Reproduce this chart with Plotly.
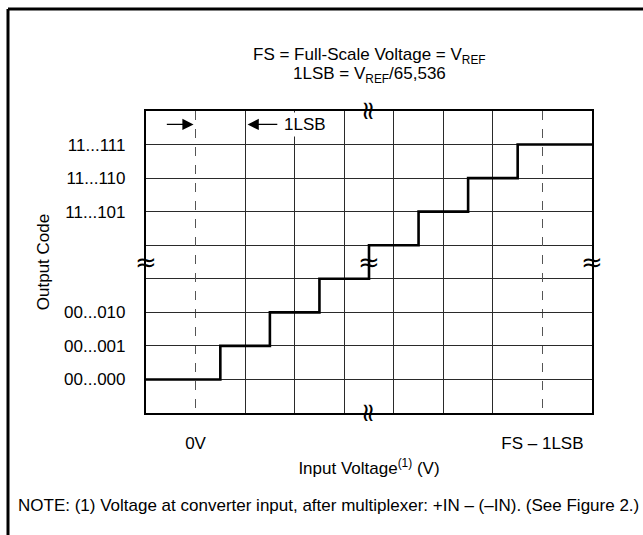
import plotly.graph_objects as go

# Transfer characteristic of an ideal ADC: input voltage (in LSB units) vs output code
step_x = [0, 1.5, 2.5, 3.5, 4.5, 5.5, 6.5, 7.5, 9]
step_code = [1, 2, 3, 4, 5, 6, 7, 8, 8]

code_ticks = [1, 2, 3, 6, 7, 8]
code_labels = ["00...000", "00...001", "00...010", "11...101", "11...110", "11...111"]

volt_ticks = [1, 8]
volt_labels = ["0V", "FS – 1LSB"]

# solid grid columns (1 LSB apart); the 0V and FS – 1LSB columns are dashed
grid_cols = [0, 2, 3, 4, 5, 6, 7, 9]

W, H = 643, 535
ML, MR, MT, MB = 146, 51, 111, 122
PW, PH = W - ML - MR, H - MT - MB

FONT = "Liberation Sans, Arial, Helvetica, sans-serif"
FS = 17
INK = "#000000"
GRID = "#2a2a2a"


def px_x(px):
    return (px - ML) / PW


def px_y(py):
    return (H - MB - py) / PH


fig = go.Figure()

fig.add_trace(go.Scatter(
    x=step_x, y=step_code, mode="lines", line_shape="hv",
    line=dict(color=INK, width=2.6), hoverinfo="skip", showlegend=False,
))

axis_common = dict(
    range=[0, 9], showline=True, mirror=True, linecolor=INK, linewidth=2.2,
    zeroline=False, ticks="", tickfont=dict(family=FONT, size=FS, color=INK),
    fixedrange=True,
)

fig.update_xaxes(
    **axis_common,
    tickmode="array", tickvals=volt_ticks, ticktext=volt_labels,
    showgrid=True, gridcolor="#555555", gridwidth=1.2, griddash="dash",
    minor=dict(tickmode="array", tickvals=grid_cols, showgrid=True,
               gridcolor=GRID, gridwidth=1, griddash="solid"),
    ticklabelstandoff=13,
    title=dict(text="Input Voltage<sup>(1)</sup> (V)", standoff=11,
               font=dict(family=FONT, size=FS, color=INK)),
)
fig.update_yaxes(
    **axis_common,
    tickmode="array", tickvals=code_ticks, ticktext=code_labels,
    showgrid=True, gridcolor=GRID, gridwidth=1, griddash="solid",
    minor=dict(tick0=0, dtick=1, showgrid=True, gridcolor=GRID, gridwidth=1,
               griddash="solid"),
    ticklabelstandoff=15,
    title=dict(text="Output Code", standoff=10,
               font=dict(family=FONT, size=FS, color=INK)),
)

annotations = []

# header lines
annotations.append(dict(
    text="FS = Full-Scale Voltage = V<sub>REF</sub>", xref="paper", yref="paper",
    x=0.5, y=px_y(56), xanchor="center", yanchor="middle", showarrow=False,
    font=dict(family=FONT, size=FS, color=INK),
))
annotations.append(dict(
    text="1LSB = V<sub>REF</sub>/65,536", xref="paper", yref="paper",
    x=0.5, y=px_y(75), xanchor="center", yanchor="middle", showarrow=False,
    font=dict(family=FONT, size=FS, color=INK),
))

# 1LSB width markers
annotations.append(dict(
    x=0.96, y=8.6, ax=0.39, ay=8.6, xref="x", yref="y", axref="x", ayref="y",
    text="", showarrow=True, arrowhead=2, arrowsize=1.6, arrowwidth=1.4,
    arrowcolor=INK,
))
annotations.append(dict(
    x=2.05, y=8.6, ax=2.68, ay=8.6, xref="x", yref="y", axref="x", ayref="y",
    text="", showarrow=True, arrowhead=2, arrowsize=1.6, arrowwidth=1.4,
    arrowcolor=INK,
))
annotations.append(dict(
    text="1LSB", x=2.72, y=8.6, xref="x", yref="y", xanchor="left",
    yanchor="middle", showarrow=False, bgcolor="white", borderpad=2,
    font=dict(family=FONT, size=FS, color=INK),
))

# axis / code breaks
breaks = [(4.5, 9, 90), (4.5, 0, 90), (0, 4.5, 0), (9, 4.5, 0), (4.5, 4.5, 0)]
for bx, by, ang in breaks:
    annotations.append(dict(
        text="≈", x=bx, y=by, xref="x", yref="y", showarrow=False,
        textangle=ang, xanchor="center", yanchor="middle",
        font=dict(family="DejaVu Sans, sans-serif", size=26, color=INK),
    ))

# footnote
annotations.append(dict(
    text="NOTE: (1) Voltage at converter input, after multiplexer: +IN – (–IN). (See Figure 2.)",
    xref="paper", yref="paper", x=px_x(16), y=px_y(505), xanchor="left",
    yanchor="middle", showarrow=False,
    font=dict(family=FONT, size=FS, color=INK),
))

# outer frame (top and left edges)
shapes = [
    dict(type="line", xref="paper", yref="paper", x0=px_x(8), x1=px_x(W + 5),
         y0=px_y(9), y1=px_y(9), line=dict(color=INK, width=3)),
    dict(type="line", xref="paper", yref="paper", x0=px_x(8), x1=px_x(8),
         y0=px_y(9), y1=px_y(H + 5), line=dict(color=INK, width=3)),
]

fig.update_layout(
    width=W, height=H, autosize=False,
    margin=dict(l=ML, r=MR, t=MT, b=MB, pad=0),
    paper_bgcolor="white", plot_bgcolor="white",
    font=dict(family=FONT, size=FS, color=INK),
    annotations=annotations, shapes=shapes, showlegend=False,
)

fig.write_html("out.html", include_plotlyjs=True, config={"displayModeBar": False})
